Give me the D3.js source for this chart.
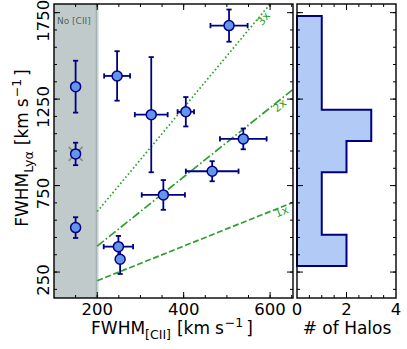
<!DOCTYPE html>
<meta charset="utf-8">
<title>FWHM Lya vs CII</title>
<style>
body { margin: 0; background: #fff; }
text { font-family: "DejaVu Sans", sans-serif; }
</style>
<body>
<svg></svg>
<script src="https://d3js.org/d3.v7.min.js"></script>
<script>

// halo measurements (km/s)
var fwhmCII    = [150, 150, 150, 505, 246, 325, 405, 538, 466, 353, 249, 253];
var fwhmCIIErr = [0, 0, 0, 43, 30, 38, 19, 54, 61, 50, 34, 0];
var fwhmLya    = [1322, 933, 507, 1675, 1384, 1160, 1177, 1020, 833, 696, 397, 324];
var fwhmLyaErr = [150, 65, 60, 93, 143, 333, 85, 60, 58, 86, 62, 85];
var flagged    = [false, true, false, false, false, false, false, false, false, false, false, false];

// histogram of FWHM_Lya
var histEdges  = [285, 466, 646, 827, 1008, 1189, 1370, 1550, 1731];
var histCounts = [2, 1, 1, 2, 3, 1, 1, 1];

// ratio lines
var ratios      = [1, 2, 3];
var ratioLabels = ["1x", "2x", "3x"];
var ratioLabelAt = [623, 616, 577];

var xTicks  = [200, 400, 600];
var yTicks  = [250, 750, 1250, 1750];
var hxTicks = [0, 2, 4];

var width = 407, height = 349;
var svg = d3.select("svg").attr("width", width).attr("height", height);

var m = {left: 54, right: 293, top: 4, bottom: 298},
    h = {left: 297, right: 396};

var x  = d3.scaleLinear().domain([100, 653]).range([m.left, m.right]),
    y  = d3.scaleLinear().domain([100, 1800]).range([m.bottom, m.top]),
    hx = d3.scaleLinear().domain([0, 4]).range([h.left, h.right]);

var navy = "#000080", green = "#2ca02c", slate = "#2f4f4f";

svg.append("clipPath").attr("id", "clipMain")
  .append("rect").attr("x", m.left).attr("y", m.top)
  .attr("width", m.right - m.left).attr("height", m.bottom - m.top);

var main = svg.append("g").attr("clip-path", "url(#clipMain)");

// no [CII] region
main.append("rect")
  .attr("x", x(100)).attr("y", m.top)
  .attr("width", x(200) - x(100)).attr("height", m.bottom - m.top)
  .attr("fill", slate).attr("fill-opacity", 0.3);
main.append("line")
  .attr("x1", x(200)).attr("x2", x(200)).attr("y1", m.top).attr("y2", m.bottom)
  .attr("stroke", slate).attr("stroke-opacity", 0.2).attr("stroke-width", 3);

svg.append("text").attr("x", 57).attr("y", 24)
  .attr("font-size", 9).attr("fill", slate).attr("fill-opacity", 0.85)
  .text("No [CII]");

// ratio lines
var dashes = ["6,2.6", "8.5,2.5,1.6,2.5", "1.6,2.4"];
ratios.forEach(function(k, i){
  main.append("line")
    .attr("x1", x(200)).attr("y1", y(200 * k))
    .attr("x2", x(653)).attr("y2", y(653 * k))
    .attr("stroke", green).attr("stroke-width", 1.7)
    .attr("stroke-dasharray", dashes[i]);
});

ratios.forEach(function(k, i){
  var lx = ratioLabelAt[i],
      px = x(lx), py = y(k * lx),
      dx = x(lx + 100) - px, dy = y(k * (lx + 100)) - py,
      len = Math.sqrt(dx * dx + dy * dy),
      ang = Math.atan2(dy, dx) * 180 / Math.PI,
      off = 4.5;
  // shift perpendicular, below the line
  px += -dy / len * off;
  py += dx / len * off;
  svg.append("text")
    .attr("transform", "translate(" + px + "," + py + ") rotate(" + ang + ")")
    .attr("text-anchor", "middle").attr("dominant-baseline", "central")
    .attr("font-size", 11).attr("fill", green)
    .text(ratioLabels[i]);
});

// error bars
var eb = svg.append("g").attr("stroke", navy).attr("stroke-width", 1.8);
fwhmCII.forEach(function(cx, i){
  var cy = fwhmLya[i], ey = fwhmLyaErr[i], ex = fwhmCIIErr[i];
  eb.append("line").attr("x1", x(cx)).attr("x2", x(cx)).attr("y1", y(cy - ey)).attr("y2", y(cy + ey));
  [cy - ey, cy + ey].forEach(function(v){
    eb.append("line").attr("x1", x(cx) - 2.6).attr("x2", x(cx) + 2.6).attr("y1", y(v)).attr("y2", y(v));
  });
  if (ex > 0) {
    eb.append("line").attr("x1", x(cx - ex)).attr("x2", x(cx + ex)).attr("y1", y(cy)).attr("y2", y(cy));
    [cx - ex, cx + ex].forEach(function(v){
      eb.append("line").attr("x1", x(v)).attr("x2", x(v)).attr("y1", y(cy) - 2.6).attr("y2", y(cy) + 2.6);
    });
  }
});

// flagged crosses
fwhmCII.forEach(function(cx, i){
  if (!flagged[i]) return;
  var px = x(cx), py = y(fwhmLya[i]);
  svg.append("path")
    .attr("d", "M" + (px - 7) + "," + (py - 7) + "L" + (px + 7) + "," + (py + 7) +
               "M" + (px - 7) + "," + (py + 7) + "L" + (px + 7) + "," + (py - 7))
    .attr("stroke", "#8a8a8a").attr("stroke-width", 1.6);
});

svg.append("g").selectAll("circle")
  .data(fwhmCII)
  .enter().append("circle")
  .attr("cx", function(d){ return x(d); })
  .attr("cy", function(d, i){ return y(fwhmLya[i]); })
  .attr("r", 5)
  .attr("fill", "#6495ed").attr("stroke", navy).attr("stroke-width", 1.5);

// histogram panel
var steps = [[0, histEdges[0]]];
histCounts.forEach(function(c, i){
  steps.push([c, histEdges[i]], [c, histEdges[i + 1]]);
});
steps.push([0, histEdges[histEdges.length - 1]]);
var hline = d3.line().x(function(d){ return hx(d[0]); }).y(function(d){ return y(d[1]); });
svg.append("path").datum(steps)
  .attr("d", hline(steps) + "Z")
  .attr("fill", "#6495ed").attr("fill-opacity", 0.5)
  .attr("stroke", navy).attr("stroke-width", 2).attr("stroke-linejoin", "miter");

// ticks (inward, all sides)
function ticksY(xpos, dir, values, len){
  values.forEach(function(v){
    if (y(v) < m.top + 1 || y(v) > m.bottom - 1) return;
    svg.append("line").attr("x1", xpos).attr("x2", xpos + dir * len)
      .attr("y1", y(v)).attr("y2", y(v)).attr("stroke", "#000").attr("stroke-width", 1);
  });
}
function ticksX(scale, ypos, dir, values, len){
  values.forEach(function(v){
    var p = scale(v);
    if (p < scale.range()[0] + 1 || p > scale.range()[1] - 1) return;
    svg.append("line").attr("x1", p).attr("x2", p)
      .attr("y1", ypos).attr("y2", ypos + dir * len).attr("stroke", "#000").attr("stroke-width", 1);
  });
}
var yMinor = d3.range(150, 1800, 100),
    xMinor = d3.range(150, 653, 50),
    hxMinor = d3.range(0.5, 4, 0.5);

[[m.left, 1], [m.right, -1], [h.left, 1], [h.right, -1]].forEach(function(s){
  ticksY(s[0], s[1], yTicks, 6);
  ticksY(s[0], s[1], yMinor, 3);
});
ticksX(x, m.bottom, -1, xTicks, 6);
ticksX(x, m.bottom, -1, xMinor, 3);
ticksX(x, m.top, 1, xTicks, 6);
ticksX(x, m.top, 1, xMinor, 3);
ticksX(hx, m.bottom, -1, hxTicks, 6);
ticksX(hx, m.bottom, -1, hxMinor, 3);
ticksX(hx, m.top, 1, hxTicks, 6);
ticksX(hx, m.top, 1, hxMinor, 3);

// frames
svg.append("rect").attr("x", m.left).attr("y", m.top)
  .attr("width", m.right - m.left).attr("height", m.bottom - m.top)
  .attr("fill", "none").attr("stroke", "#000").attr("stroke-width", 1.4);
svg.append("rect").attr("x", h.left).attr("y", m.top)
  .attr("width", h.right - h.left).attr("height", m.bottom - m.top)
  .attr("fill", "none").attr("stroke", "#000").attr("stroke-width", 1.4);

// tick labels
xTicks.forEach(function(v){
  svg.append("text").attr("x", x(v)).attr("y", 314.5)
    .attr("text-anchor", "middle").attr("font-size", 16.5).text(v);
});
hxTicks.forEach(function(v){
  svg.append("text").attr("x", hx(v)).attr("y", 314.5)
    .attr("text-anchor", "middle").attr("font-size", 16.5).text(v);
});
yTicks.forEach(function(v){
  svg.append("text")
    .attr("transform", "translate(48.5," + (y(v) + 8) + ") rotate(-90)")
    .attr("text-anchor", "middle").attr("font-size", 16.5).text(v);
});

// axis titles
function unitLabel(t, sub){
  t.append("tspan").text("FWHM");
  t.append("tspan").attr("font-size", 12.5).attr("dy", 4.5).text(sub);
  t.append("tspan").attr("dy", -4.5).attr("dx", 6).text("[km");
  t.append("tspan").attr("dx", 5).text("s");
  t.append("tspan").attr("font-size", 12.5).attr("dy", -7).attr("dx", 1).text("\u22121");
  t.append("tspan").attr("dy", 7).attr("dx", 3).text("]");
}
unitLabel(svg.append("text").attr("x", 172).attr("y", 334)
  .attr("text-anchor", "middle").attr("font-size", 17), "[CII]");

unitLabel(svg.append("text")
  .attr("transform", "translate(28,148) rotate(-90)")
  .attr("text-anchor", "middle").attr("font-size", 17), "Ly\u03b1");

svg.append("text").attr("x", 347).attr("y", 334)
  .attr("text-anchor", "middle").attr("font-size", 17).text("# of Halos");

</script>
</body>
